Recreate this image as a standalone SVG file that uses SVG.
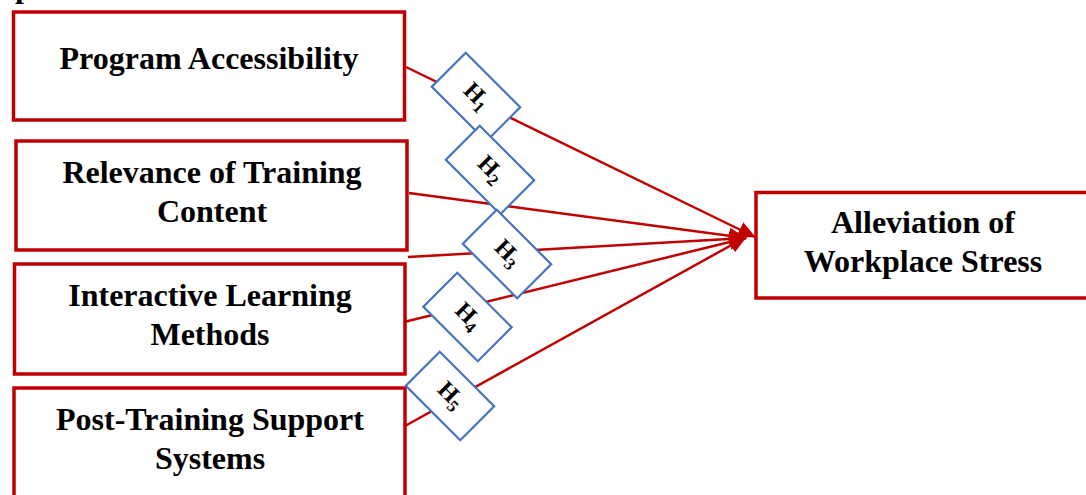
<svg xmlns="http://www.w3.org/2000/svg" width="1086" height="495" viewBox="0 0 1086 495">
  <style>
    .box { fill: #ffffff; stroke: #C00000; stroke-width: 3.5; }
    .title { font-family: "Liberation Serif", "Times New Roman", serif; font-weight: bold; font-size: 32px; fill: #000000; text-anchor: middle; }
    .link { fill: none; stroke: #C00000; stroke-width: 2.5; marker-end: url(#arrow); }
    .tag { fill: #ffffff; stroke: #4472C4; stroke-width: 2.2; }
    .tagtext { font-family: "Liberation Serif", "Times New Roman", serif; font-weight: bold; font-size: 24px; fill: #000000; text-anchor: middle; }
    .sub { font-size: 17px; }
  </style>
  <defs>
    <marker id="arrow" viewBox="0 0 18 16" refX="17" refY="8" markerWidth="18" markerHeight="16" markerUnits="userSpaceOnUse" orient="auto">
      <path d="M0,0 L18,8 L0,16 Z" fill="#C00000"/>
    </marker>
  </defs>

  <rect width="1086" height="495" fill="#ffffff"/>

  <!-- clipped heading fragment at the top edge -->
  <text x="15" y="-3" class="title" style="text-anchor:start">p</text>

  <!-- connectors -->
  <g id="connectors">
    <line class="link" x1="406" y1="67" x2="755" y2="237"/>
    <line class="link" x1="409" y1="193" x2="746" y2="238"/>
    <line class="link" x1="408" y1="257" x2="746" y2="238"/>
    <line class="link" x1="404" y1="322" x2="746" y2="238"/>
    <line class="link" x1="405" y1="426" x2="746" y2="237"/>
  </g>

  <!-- source constructs -->
  <g id="program-accessibility">
    <rect class="box" x="13.5" y="12" width="391" height="108"/>
    <text class="title" x="209" y="69">Program Accessibility</text>
  </g>
  <g id="relevance-of-training-content">
    <rect class="box" x="16" y="141" width="391" height="109"/>
    <text class="title" x="212" y="183">Relevance of Training</text>
    <text class="title" x="212" y="222">Content</text>
  </g>
  <g id="interactive-learning-methods">
    <rect class="box" x="14.5" y="264" width="390.5" height="110"/>
    <text class="title" x="210" y="306">Interactive Learning</text>
    <text class="title" x="210" y="345">Methods</text>
  </g>
  <g id="post-training-support-systems">
    <rect class="box" x="14" y="388" width="391" height="130"/>
    <text class="title" x="210" y="430">Post-Training Support</text>
    <text class="title" x="210" y="469">Systems</text>
  </g>

  <!-- outcome -->
  <g id="alleviation-of-workplace-stress">
    <rect class="box" x="756" y="192.5" width="360" height="105.5"/>
    <text class="title" x="923" y="233">Alleviation of</text>
    <text class="title" x="923" y="272">Workplace Stress</text>
  </g>

  <!-- hypothesis tags -->
  <g id="h1" transform="translate(476,97) rotate(45)">
    <rect class="tag" x="-38.5" y="-24" width="77" height="48"/>
    <text class="tagtext" x="0" y="6">H<tspan class="sub" dy="5">1</tspan></text>
  </g>
  <g id="h2" transform="translate(490,170) rotate(45)">
    <rect class="tag" x="-38.5" y="-24" width="77" height="48"/>
    <text class="tagtext" x="0" y="6">H<tspan class="sub" dy="5">2</tspan></text>
  </g>
  <g id="h3" transform="translate(507,254) rotate(45)">
    <rect class="tag" x="-38.5" y="-24" width="77" height="48"/>
    <text class="tagtext" x="0" y="6">H<tspan class="sub" dy="5">3</tspan></text>
  </g>
  <g id="h4" transform="translate(467.5,317) rotate(45)">
    <rect class="tag" x="-38.5" y="-24" width="77" height="48"/>
    <text class="tagtext" x="0" y="6">H<tspan class="sub" dy="5">4</tspan></text>
  </g>
  <g id="h5" transform="translate(450,396) rotate(45)">
    <rect class="tag" x="-38.5" y="-24" width="77" height="48"/>
    <text class="tagtext" x="0" y="6">H<tspan class="sub" dy="5">5</tspan></text>
  </g>
</svg>
